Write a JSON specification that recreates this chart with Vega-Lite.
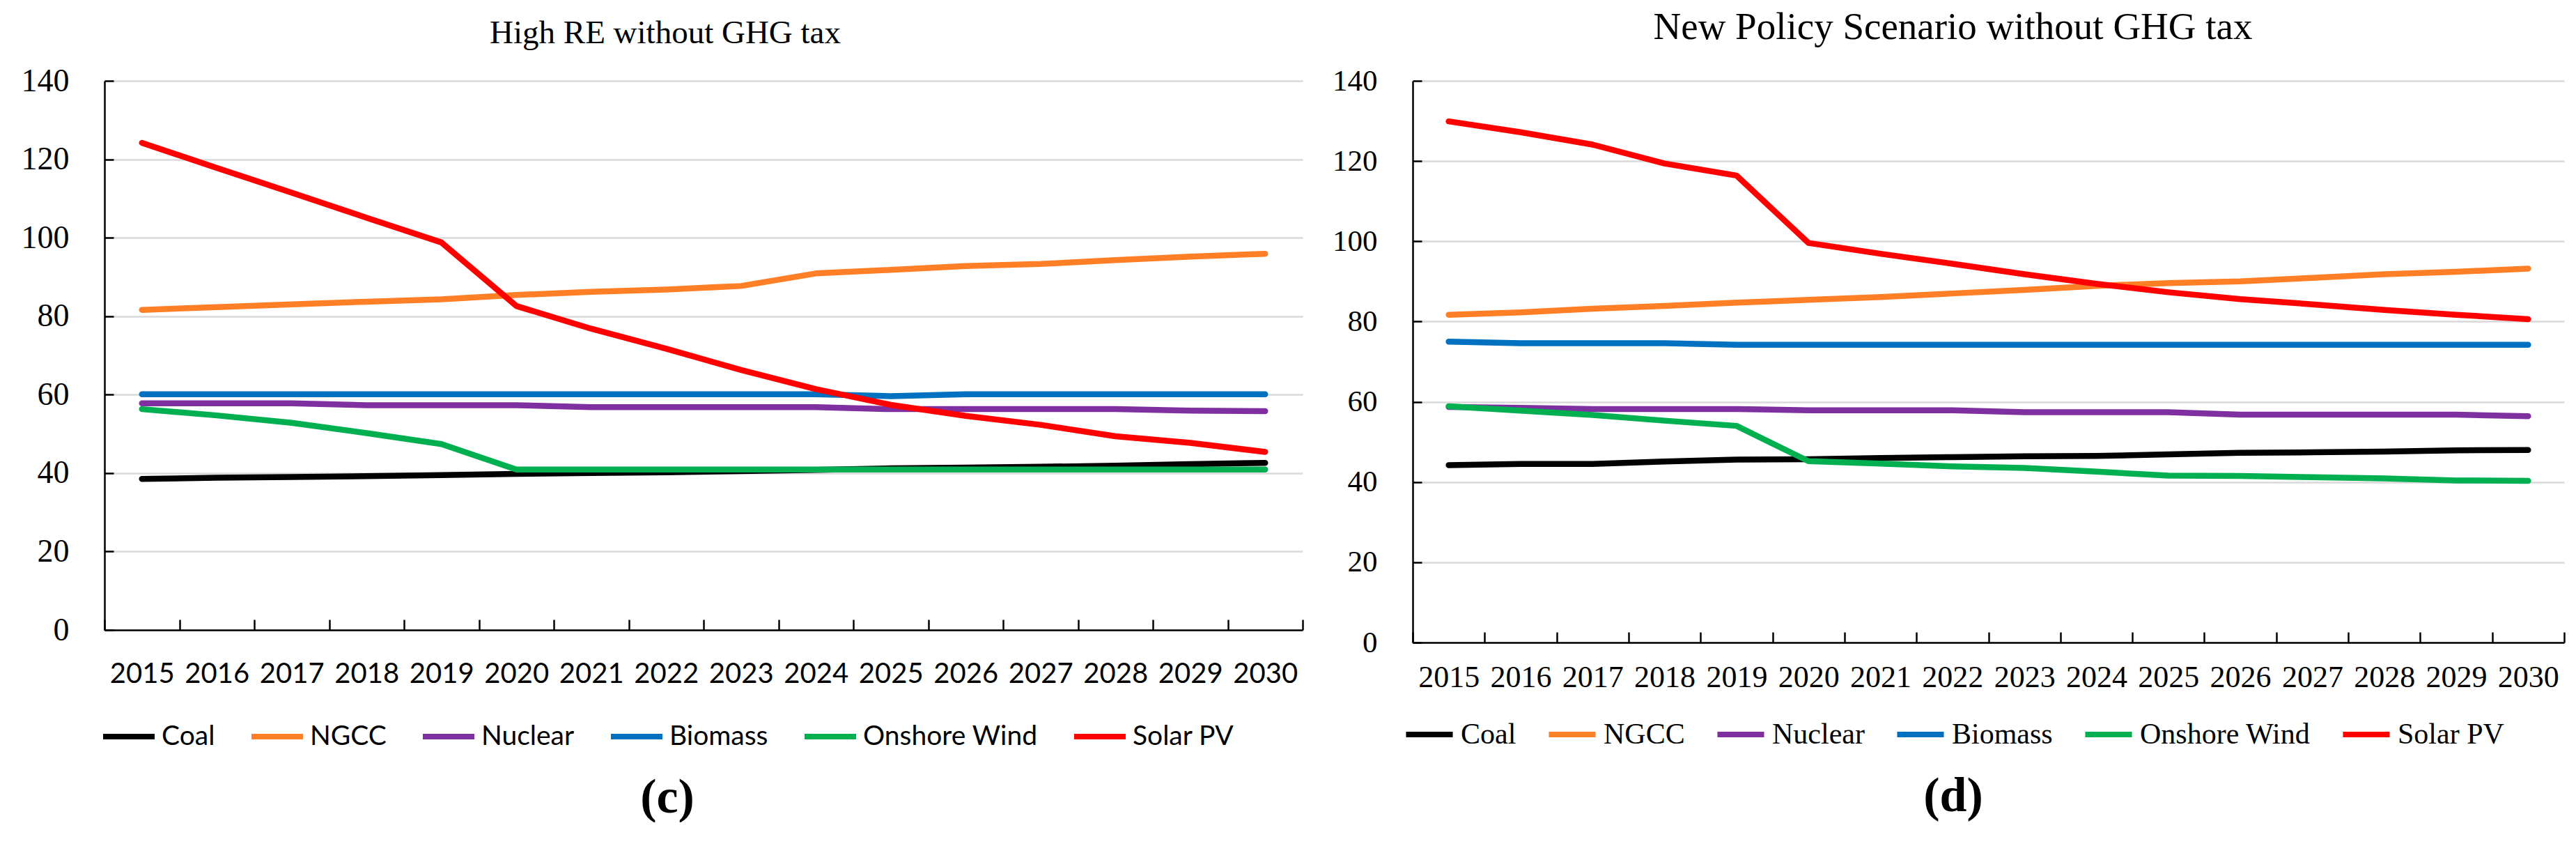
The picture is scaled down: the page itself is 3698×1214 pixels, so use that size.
{
  "$schema": "https://vega.github.io/schema/vega-lite/v6.json",
  "background": "white",
  "padding": {"left": 30, "top": 12, "right": 0, "bottom": 0},
  "spacing": 40,
  "config": {
    "view": {"stroke": null},
    "axis": {"domainColor": "black", "domainWidth": 2.5, "tickColor": "black", "tickWidth": 2.5, "labelColor": "black", "gridColor": "#d9d9d9", "gridWidth": 2.5},
    "title": {"font": "Liberation Serif", "fontWeight": "normal", "color": "black"}
  },
  "datasets": {
    "c": [
      {"year": "2015", "tech": "Coal", "value": 38.5}, {"year": "2016", "tech": "Coal", "value": 38.8}, {"year": "2017", "tech": "Coal", "value": 39.0}, {"year": "2018", "tech": "Coal", "value": 39.2}, {"year": "2019", "tech": "Coal", "value": 39.5}, {"year": "2020", "tech": "Coal", "value": 39.8}, {"year": "2021", "tech": "Coal", "value": 40.0}, {"year": "2022", "tech": "Coal", "value": 40.2}, {"year": "2023", "tech": "Coal", "value": 40.5}, {"year": "2024", "tech": "Coal", "value": 40.8}, {"year": "2025", "tech": "Coal", "value": 41.2}, {"year": "2026", "tech": "Coal", "value": 41.4}, {"year": "2027", "tech": "Coal", "value": 41.6}, {"year": "2028", "tech": "Coal", "value": 41.9}, {"year": "2029", "tech": "Coal", "value": 42.3}, {"year": "2030", "tech": "Coal", "value": 42.6},
      {"year": "2015", "tech": "NGCC", "value": 81.6}, {"year": "2016", "tech": "NGCC", "value": 82.3}, {"year": "2017", "tech": "NGCC", "value": 83.0}, {"year": "2018", "tech": "NGCC", "value": 83.7}, {"year": "2019", "tech": "NGCC", "value": 84.3}, {"year": "2020", "tech": "NGCC", "value": 85.4}, {"year": "2021", "tech": "NGCC", "value": 86.2}, {"year": "2022", "tech": "NGCC", "value": 86.8}, {"year": "2023", "tech": "NGCC", "value": 87.7}, {"year": "2024", "tech": "NGCC", "value": 90.9}, {"year": "2025", "tech": "NGCC", "value": 91.8}, {"year": "2026", "tech": "NGCC", "value": 92.8}, {"year": "2027", "tech": "NGCC", "value": 93.3}, {"year": "2028", "tech": "NGCC", "value": 94.3}, {"year": "2029", "tech": "NGCC", "value": 95.2}, {"year": "2030", "tech": "NGCC", "value": 95.9},
      {"year": "2015", "tech": "Nuclear", "value": 57.8}, {"year": "2016", "tech": "Nuclear", "value": 57.8}, {"year": "2017", "tech": "Nuclear", "value": 57.8}, {"year": "2018", "tech": "Nuclear", "value": 57.3}, {"year": "2019", "tech": "Nuclear", "value": 57.3}, {"year": "2020", "tech": "Nuclear", "value": 57.3}, {"year": "2021", "tech": "Nuclear", "value": 56.8}, {"year": "2022", "tech": "Nuclear", "value": 56.8}, {"year": "2023", "tech": "Nuclear", "value": 56.8}, {"year": "2024", "tech": "Nuclear", "value": 56.8}, {"year": "2025", "tech": "Nuclear", "value": 56.3}, {"year": "2026", "tech": "Nuclear", "value": 56.3}, {"year": "2027", "tech": "Nuclear", "value": 56.3}, {"year": "2028", "tech": "Nuclear", "value": 56.3}, {"year": "2029", "tech": "Nuclear", "value": 55.9}, {"year": "2030", "tech": "Nuclear", "value": 55.8},
      {"year": "2015", "tech": "Biomass", "value": 60.1}, {"year": "2016", "tech": "Biomass", "value": 60.1}, {"year": "2017", "tech": "Biomass", "value": 60.1}, {"year": "2018", "tech": "Biomass", "value": 60.1}, {"year": "2019", "tech": "Biomass", "value": 60.1}, {"year": "2020", "tech": "Biomass", "value": 60.1}, {"year": "2021", "tech": "Biomass", "value": 60.1}, {"year": "2022", "tech": "Biomass", "value": 60.1}, {"year": "2023", "tech": "Biomass", "value": 60.1}, {"year": "2024", "tech": "Biomass", "value": 60.1}, {"year": "2025", "tech": "Biomass", "value": 59.6}, {"year": "2026", "tech": "Biomass", "value": 60.1}, {"year": "2027", "tech": "Biomass", "value": 60.1}, {"year": "2028", "tech": "Biomass", "value": 60.1}, {"year": "2029", "tech": "Biomass", "value": 60.1}, {"year": "2030", "tech": "Biomass", "value": 60.1},
      {"year": "2015", "tech": "Onshore Wind", "value": 56.3}, {"year": "2016", "tech": "Onshore Wind", "value": 54.7}, {"year": "2017", "tech": "Onshore Wind", "value": 52.8}, {"year": "2018", "tech": "Onshore Wind", "value": 50.2}, {"year": "2019", "tech": "Onshore Wind", "value": 47.4}, {"year": "2020", "tech": "Onshore Wind", "value": 40.9}, {"year": "2021", "tech": "Onshore Wind", "value": 40.9}, {"year": "2022", "tech": "Onshore Wind", "value": 40.9}, {"year": "2023", "tech": "Onshore Wind", "value": 40.9}, {"year": "2024", "tech": "Onshore Wind", "value": 40.9}, {"year": "2025", "tech": "Onshore Wind", "value": 40.9}, {"year": "2026", "tech": "Onshore Wind", "value": 40.9}, {"year": "2027", "tech": "Onshore Wind", "value": 40.9}, {"year": "2028", "tech": "Onshore Wind", "value": 40.9}, {"year": "2029", "tech": "Onshore Wind", "value": 40.9}, {"year": "2030", "tech": "Onshore Wind", "value": 40.9},
      {"year": "2015", "tech": "Solar PV", "value": 124.2}, {"year": "2016", "tech": "Solar PV", "value": 117.8}, {"year": "2017", "tech": "Solar PV", "value": 111.5}, {"year": "2018", "tech": "Solar PV", "value": 105.1}, {"year": "2019", "tech": "Solar PV", "value": 98.8}, {"year": "2020", "tech": "Solar PV", "value": 82.6}, {"year": "2021", "tech": "Solar PV", "value": 76.8}, {"year": "2022", "tech": "Solar PV", "value": 71.7}, {"year": "2023", "tech": "Solar PV", "value": 66.3}, {"year": "2024", "tech": "Solar PV", "value": 61.4}, {"year": "2025", "tech": "Solar PV", "value": 57.4}, {"year": "2026", "tech": "Solar PV", "value": 54.6}, {"year": "2027", "tech": "Solar PV", "value": 52.3}, {"year": "2028", "tech": "Solar PV", "value": 49.4}, {"year": "2029", "tech": "Solar PV", "value": 47.7}, {"year": "2030", "tech": "Solar PV", "value": 45.4}
    ],
    "d": [
      {"year": "2015", "tech": "Coal", "value": 44.2}, {"year": "2016", "tech": "Coal", "value": 44.5}, {"year": "2017", "tech": "Coal", "value": 44.5}, {"year": "2018", "tech": "Coal", "value": 45.1}, {"year": "2019", "tech": "Coal", "value": 45.6}, {"year": "2020", "tech": "Coal", "value": 45.7}, {"year": "2021", "tech": "Coal", "value": 46.0}, {"year": "2022", "tech": "Coal", "value": 46.2}, {"year": "2023", "tech": "Coal", "value": 46.4}, {"year": "2024", "tech": "Coal", "value": 46.5}, {"year": "2025", "tech": "Coal", "value": 46.9}, {"year": "2026", "tech": "Coal", "value": 47.3}, {"year": "2027", "tech": "Coal", "value": 47.4}, {"year": "2028", "tech": "Coal", "value": 47.6}, {"year": "2029", "tech": "Coal", "value": 47.9}, {"year": "2030", "tech": "Coal", "value": 48.0},
      {"year": "2015", "tech": "NGCC", "value": 81.7}, {"year": "2016", "tech": "NGCC", "value": 82.3}, {"year": "2017", "tech": "NGCC", "value": 83.2}, {"year": "2018", "tech": "NGCC", "value": 83.9}, {"year": "2019", "tech": "NGCC", "value": 84.7}, {"year": "2020", "tech": "NGCC", "value": 85.4}, {"year": "2021", "tech": "NGCC", "value": 86.1}, {"year": "2022", "tech": "NGCC", "value": 87.0}, {"year": "2023", "tech": "NGCC", "value": 87.9}, {"year": "2024", "tech": "NGCC", "value": 88.9}, {"year": "2025", "tech": "NGCC", "value": 89.6}, {"year": "2026", "tech": "NGCC", "value": 90.0}, {"year": "2027", "tech": "NGCC", "value": 90.9}, {"year": "2028", "tech": "NGCC", "value": 91.8}, {"year": "2029", "tech": "NGCC", "value": 92.4}, {"year": "2030", "tech": "NGCC", "value": 93.2},
      {"year": "2015", "tech": "Nuclear", "value": 58.7}, {"year": "2016", "tech": "Nuclear", "value": 58.5}, {"year": "2017", "tech": "Nuclear", "value": 58.2}, {"year": "2018", "tech": "Nuclear", "value": 58.2}, {"year": "2019", "tech": "Nuclear", "value": 58.2}, {"year": "2020", "tech": "Nuclear", "value": 57.9}, {"year": "2021", "tech": "Nuclear", "value": 57.9}, {"year": "2022", "tech": "Nuclear", "value": 57.9}, {"year": "2023", "tech": "Nuclear", "value": 57.4}, {"year": "2024", "tech": "Nuclear", "value": 57.4}, {"year": "2025", "tech": "Nuclear", "value": 57.4}, {"year": "2026", "tech": "Nuclear", "value": 56.8}, {"year": "2027", "tech": "Nuclear", "value": 56.8}, {"year": "2028", "tech": "Nuclear", "value": 56.8}, {"year": "2029", "tech": "Nuclear", "value": 56.8}, {"year": "2030", "tech": "Nuclear", "value": 56.4},
      {"year": "2015", "tech": "Biomass", "value": 75.0}, {"year": "2016", "tech": "Biomass", "value": 74.6}, {"year": "2017", "tech": "Biomass", "value": 74.6}, {"year": "2018", "tech": "Biomass", "value": 74.6}, {"year": "2019", "tech": "Biomass", "value": 74.2}, {"year": "2020", "tech": "Biomass", "value": 74.2}, {"year": "2021", "tech": "Biomass", "value": 74.2}, {"year": "2022", "tech": "Biomass", "value": 74.2}, {"year": "2023", "tech": "Biomass", "value": 74.2}, {"year": "2024", "tech": "Biomass", "value": 74.2}, {"year": "2025", "tech": "Biomass", "value": 74.2}, {"year": "2026", "tech": "Biomass", "value": 74.2}, {"year": "2027", "tech": "Biomass", "value": 74.2}, {"year": "2028", "tech": "Biomass", "value": 74.2}, {"year": "2029", "tech": "Biomass", "value": 74.2}, {"year": "2030", "tech": "Biomass", "value": 74.2},
      {"year": "2015", "tech": "Onshore Wind", "value": 58.9}, {"year": "2016", "tech": "Onshore Wind", "value": 57.8}, {"year": "2017", "tech": "Onshore Wind", "value": 56.7}, {"year": "2018", "tech": "Onshore Wind", "value": 55.3}, {"year": "2019", "tech": "Onshore Wind", "value": 54.0}, {"year": "2020", "tech": "Onshore Wind", "value": 45.2}, {"year": "2021", "tech": "Onshore Wind", "value": 44.6}, {"year": "2022", "tech": "Onshore Wind", "value": 43.9}, {"year": "2023", "tech": "Onshore Wind", "value": 43.5}, {"year": "2024", "tech": "Onshore Wind", "value": 42.6}, {"year": "2025", "tech": "Onshore Wind", "value": 41.6}, {"year": "2026", "tech": "Onshore Wind", "value": 41.5}, {"year": "2027", "tech": "Onshore Wind", "value": 41.2}, {"year": "2028", "tech": "Onshore Wind", "value": 40.9}, {"year": "2029", "tech": "Onshore Wind", "value": 40.4}, {"year": "2030", "tech": "Onshore Wind", "value": 40.3},
      {"year": "2015", "tech": "Solar PV", "value": 129.9}, {"year": "2016", "tech": "Solar PV", "value": 127.2}, {"year": "2017", "tech": "Solar PV", "value": 124.1}, {"year": "2018", "tech": "Solar PV", "value": 119.4}, {"year": "2019", "tech": "Solar PV", "value": 116.4}, {"year": "2020", "tech": "Solar PV", "value": 99.6}, {"year": "2021", "tech": "Solar PV", "value": 96.9}, {"year": "2022", "tech": "Solar PV", "value": 94.4}, {"year": "2023", "tech": "Solar PV", "value": 91.8}, {"year": "2024", "tech": "Solar PV", "value": 89.4}, {"year": "2025", "tech": "Solar PV", "value": 87.3}, {"year": "2026", "tech": "Solar PV", "value": 85.6}, {"year": "2027", "tech": "Solar PV", "value": 84.3}, {"year": "2028", "tech": "Solar PV", "value": 82.9}, {"year": "2029", "tech": "Solar PV", "value": 81.7}, {"year": "2030", "tech": "Solar PV", "value": 80.6}
    ]
  },
  "hconcat": [
    {
      "data": {"name": "c"},
      "width": 1720,
      "height": 788,
      "title": {"text": "High RE without GHG tax", "fontSize": 47, "anchor": "middle", "dx": -55, "offset": 21},
      "mark": {"type": "line", "strokeWidth": 8.5, "strokeCap": "round", "strokeJoin": "round"},
      "encoding": {
        "x": {"field": "year", "type": "ordinal", "bandPosition": 0.5, "scale": {"type": "band", "paddingInner": 0, "paddingOuter": 0},
          "axis": {"title": null, "labelAngle": 0, "tickBand": "extent", "tickSize": -15, "labelPadding": 58, "labelFont": "Lato", "labelFontSize": 40, "grid": false}},
        "y": {"field": "value", "type": "quantitative", "scale": {"domain": [0, 140], "nice": false},
          "axis": {"title": null, "values": [0, 20, 40, 60, 80, 100, 120, 140], "tickSize": -13, "labelPadding": 64, "labelFont": "Liberation Serif", "labelFontSize": 46, "grid": true}},
        "color": {"field": "tech", "type": "nominal",
          "scale": {"domain": ["Coal", "NGCC", "Nuclear", "Biomass", "Onshore Wind", "Solar PV"], "range": ["#000000", "#FF7F27", "#7F30A0", "#0070C0", "#00B050", "#FF0000"]},
          "legend": {"orient": "none", "legendX": -6, "legendY": 900, "direction": "horizontal", "padding": 0, "symbolType": "stroke", "symbolSize": 5476, "symbolStrokeWidth": 8, "labelFont": "Lato", "labelFontSize": 39, "labelColor": "black", "labelOffset": 6, "columnPadding": 36, "labelLimit": 1000,
            "title": "(c)", "titleOrient": "bottom", "titleAnchor": "middle", "titleFont": "Liberation Serif", "titleFontSize": 70, "titleFontWeight": "bold", "titleColor": "black", "titlePadding": 34, "titleLimit": 1000}}
      }
    },
    {
      "data": {"name": "d"},
      "width": 1653,
      "height": 806,
      "title": {"text": "New Policy Scenario without GHG tax", "fontSize": 55, "anchor": "middle", "dx": -51, "offset": 27},
      "mark": {"type": "line", "strokeWidth": 8.5, "strokeCap": "round", "strokeJoin": "round"},
      "encoding": {
        "x": {"field": "year", "type": "ordinal", "bandPosition": 0.5, "scale": {"type": "band", "paddingInner": 0, "paddingOuter": 0},
          "axis": {"title": null, "labelAngle": 0, "tickBand": "extent", "tickSize": -15, "labelPadding": 43, "labelFont": "Liberation Serif", "labelFontSize": 44, "grid": false}},
        "y": {"field": "value", "type": "quantitative", "scale": {"domain": [0, 140], "nice": false},
          "axis": {"title": null, "values": [0, 20, 40, 60, 80, 100, 120, 140], "tickSize": -13, "labelPadding": 64, "labelFont": "Liberation Serif", "labelFontSize": 43, "grid": true}},
        "color": {"field": "tech", "type": "nominal",
          "scale": {"domain": ["Coal", "NGCC", "Nuclear", "Biomass", "Onshore Wind", "Solar PV"], "range": ["#000000", "#FF7F27", "#7F30A0", "#0070C0", "#00B050", "#FF0000"]},
          "legend": {"orient": "none", "legendX": -14, "legendY": 900, "direction": "horizontal", "padding": 0, "symbolType": "stroke", "symbolSize": 4500, "symbolStrokeWidth": 8, "labelFont": "Liberation Serif", "labelFontSize": 42, "labelColor": "black", "labelOffset": 7, "columnPadding": 30, "labelLimit": 1000,
            "title": "(d)", "titleOrient": "bottom", "titleAnchor": "middle", "titleFont": "Liberation Serif", "titleFontSize": 70, "titleFontWeight": "bold", "titleColor": "black", "titlePadding": 34, "titleLimit": 1000}}
      }
    }
  ],
  "resolve": {"scale": {"x": "independent", "y": "independent", "color": "independent"}, "legend": {"color": "independent"}}
}
